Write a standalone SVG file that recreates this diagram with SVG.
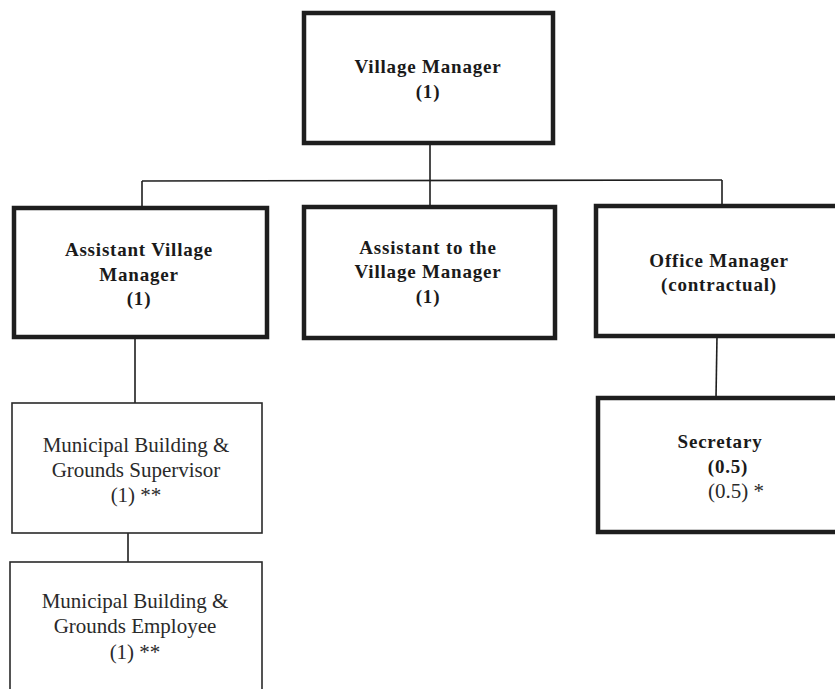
<svg xmlns="http://www.w3.org/2000/svg" width="835" height="689" viewBox="0 0 835 689">
<style>
.bg{fill:#ffffff}
.thick{fill:#ffffff;stroke:#1e1e1e;stroke-width:4.5}
.thin{fill:#ffffff;stroke:#2a2a2a;stroke-width:1.6}
.conn{fill:none;stroke:#1e1e1e;stroke-width:1.6}
.b{font-family:"Liberation Serif","Times New Roman",serif;font-weight:bold;font-size:19px;letter-spacing:0.8px;fill:#1a1a1a;text-anchor:middle}
.r{font-family:"Liberation Serif","Times New Roman",serif;font-size:21px;fill:#2a2a2a;text-anchor:middle}
</style>
<rect class="bg" x="0" y="0" width="835" height="689"/>
<g id="connectors">
<line class="conn" x1="430" y1="143" x2="430" y2="207"/>
<line class="conn" x1="142" y1="181" x2="722" y2="180"/>
<line class="conn" x1="142" y1="181" x2="142" y2="208"/>
<line class="conn" x1="722" y1="180" x2="722" y2="206"/>
<line class="conn" x1="135" y1="337" x2="135" y2="403"/>
<line class="conn" x1="128" y1="533" x2="128" y2="562"/>
<line class="conn" x1="717" y1="336" x2="716" y2="398"/>
</g>
<g id="village-manager">
<rect class="thick" x="304" y="13" width="249" height="130"/>
<text class="b" x="428" y="73">Village Manager</text>
<text class="b" x="428" y="98">(1)</text>
</g>
<g id="assistant-village-manager">
<rect class="thick" x="14" y="208" width="253" height="129"/>
<text class="b" x="139" y="256">Assistant Village</text>
<text class="b" x="139" y="281">Manager</text>
<text class="b" x="139" y="305">(1)</text>
</g>
<g id="assistant-to-village-manager">
<rect class="thick" x="304" y="207" width="251" height="131"/>
<text class="b" x="428" y="254">Assistant to the</text>
<text class="b" x="428" y="278">Village Manager</text>
<text class="b" x="428" y="303">(1)</text>
</g>
<g id="office-manager">
<rect class="thick" x="596" y="206" width="260" height="130"/>
<text class="b" x="719" y="267">Office Manager</text>
<text class="b" x="719" y="291">(contractual)</text>
</g>
<g id="secretary">
<rect class="thick" x="598" y="398" width="260" height="134"/>
<text class="b" x="720" y="448">Secretary</text>
<text class="b" x="728" y="473">(0.5)</text>
<text class="r" x="708" y="498" style="text-anchor:start">(0.5) *</text>
</g>
<g id="grounds-supervisor">
<rect class="thin" x="12" y="403" width="250" height="130"/>
<text class="r" x="136" y="452">Municipal Building &amp;</text>
<text class="r" x="136" y="477">Grounds Supervisor</text>
<text class="r" x="136" y="502">(1) **</text>
</g>
<g id="grounds-employee">
<rect class="thin" x="10" y="562" width="252" height="140"/>
<text class="r" x="135" y="608">Municipal Building &amp;</text>
<text class="r" x="135" y="633">Grounds Employee</text>
<text class="r" x="135" y="659">(1) **</text>
</g>
</svg>
